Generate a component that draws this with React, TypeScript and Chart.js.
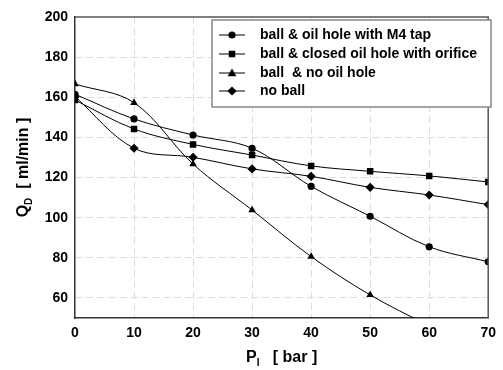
import React, { useEffect, useRef } from "react";
import { Chart, registerables } from "chart.js";

Chart.register(...registerables);

const pressure = [0, 10, 20, 30, 40, 50, 60, 70];
const m4Tap = [161.5, 149.2, 141.2, 134.6, 115.6, 100.7, 85.5, 78];
const closedOrifice = [158.6, 144.2, 136.5, 131.2, 125.8, 123.1, 120.8, 117.8];
const noOilHole = [166.6, 157.3, 126.7, 103.8, 80.6, 61.5, 46];
const noBall = [160.3, 134.6, 130.1, 124.3, 120.6, 115.1, 111.3, 106.5];

const seriesLabels = [
  "ball & oil hole with M4 tap",
  "ball & closed oil hole with orifice",
  "ball  & no oil hole",
  "no ball",
];
const seriesValues = [m4Tap, closedOrifice, noOilHole, noBall];
const pointStyles = ["circle", "rect", "triangle", "rectRot"];
const pointRadii = [3.6, 4.6, 4.4, 4.6];

const yTicks = [60, 80, 100, 120, 140, 160, 180, 200];
const xTicks = [0, 10, 20, 30, 40, 50, 60, 70];

const FONT = "'Liberation Sans', Arial, sans-serif";

function drawMarker(ctx: CanvasRenderingContext2D, style: string, x: number, y: number, r: number) {
  ctx.beginPath();
  if (style === "circle") {
    ctx.arc(x, y, r, 0, Math.PI * 2);
  } else if (style === "rect") {
    const s = r * Math.SQRT1_2;
    ctx.rect(x - s, y - s, 2 * s, 2 * s);
  } else if (style === "triangle") {
    ctx.moveTo(x, y - r);
    ctx.lineTo(x + r, y + r * 0.75);
    ctx.lineTo(x - r, y + r * 0.75);
    ctx.closePath();
  } else {
    ctx.moveTo(x, y - r);
    ctx.lineTo(x + r, y);
    ctx.lineTo(x, y + r);
    ctx.lineTo(x - r, y);
    ctx.closePath();
  }
  ctx.fillStyle = "#000";
  ctx.fill();
}

const decorPlugin = {
  id: "decor",
  afterDraw(chart: any) {
    const ctx: CanvasRenderingContext2D = chart.ctx;
    const a = chart.chartArea;
    ctx.save();
    // frame (top and right)
    ctx.strokeStyle = "#555";
    ctx.lineWidth = 1.5;
    ctx.beginPath();
    ctx.moveTo(a.left, a.top);
    ctx.lineTo(a.right, a.top);
    ctx.lineTo(a.right, a.bottom);
    ctx.stroke();

    // legend
    ctx.strokeStyle = "#888";
    ctx.lineWidth = 1.5;
    ctx.fillStyle = "#fff";
    ctx.fillRect(212, 20, 279, 87);
    ctx.strokeRect(212, 20, 279, 87);
    const rows = [35, 54, 73, 91];
    ctx.font = `bold 14px ${FONT}`;
    ctx.textBaseline = "middle";
    ctx.textAlign = "left";
    seriesLabels.forEach((lab, i) => {
      const y = rows[i];
      ctx.strokeStyle = "#000";
      ctx.lineWidth = 1;
      ctx.beginPath();
      ctx.moveTo(219, y);
      ctx.lineTo(245, y);
      ctx.stroke();
      drawMarker(ctx, pointStyles[i], 232, y, pointRadii[i]);
      ctx.fillStyle = "#000";
      ctx.fillText(lab, 260, y + 0.5);
    });

    // x title: P_I [ bar ]
    ctx.fillStyle = "#000";
    ctx.textBaseline = "alphabetic";
    const big = `bold 16px ${FONT}`;
    const small = `bold 10px ${FONT}`;
    ctx.font = big;
    const wP = ctx.measureText("P").width;
    ctx.font = small;
    const wI = ctx.measureText("I").width;
    ctx.font = big;
    const rest = "   [ bar ]";
    const wR = ctx.measureText(rest).width;
    const total = wP + wI + wR;
    const x0 = (a.left + a.right) / 2 - total / 2;
    const by = 362;
    ctx.fillText("P", x0, by);
    ctx.font = small;
    ctx.fillText("I", x0 + wP, by + 4);
    ctx.font = big;
    ctx.fillText(rest, x0 + wP + wI, by);

    // y title: Q_D [ ml/min ]
    ctx.save();
    ctx.translate(28, (a.top + a.bottom) / 2);
    ctx.rotate(-Math.PI / 2);
    ctx.font = big;
    const wQ = ctx.measureText("Q").width;
    ctx.font = small;
    const wD = ctx.measureText("D").width;
    ctx.font = big;
    const restY = "  [ ml/min ]";
    const wRY = ctx.measureText(restY).width;
    const tY = wQ + wD + wRY;
    const s = -tY / 2;
    ctx.fillText("Q", s, 0);
    ctx.font = small;
    ctx.fillText("D", s + wQ, 4);
    ctx.font = big;
    ctx.fillText(restY, s + wQ + wD, 0);
    ctx.restore();

    ctx.restore();
  },
};

export default function App() {
  const ref = useRef<HTMLCanvasElement | null>(null);
  useEffect(() => {
    if (!ref.current) return;
    const datasets = seriesValues.map((vals, i) => ({
      label: seriesLabels[i],
      data: vals.map((v, j) => ({ x: pressure[j], y: v })),
      borderColor: "#000",
      backgroundColor: "#000",
      borderWidth: 1,
      pointStyle: pointStyles[i] as any,
      pointRadius: pointRadii[i],
      pointBorderWidth: 0,
      tension: 0.35,
      fill: false,
    }));
    const chart = new Chart(ref.current, {
      type: "line",
      data: { datasets },
      options: {
        animation: false,
        responsive: false,
        layout: { padding: { left: 0, top: 17, right: 9, bottom: 0 } },
        plugins: { legend: { display: false }, tooltip: { enabled: false } },
        scales: {
          x: {
            type: "linear",
            min: 0,
            max: 70,
            afterBuildTicks: (scale: any) => {
              scale.ticks = xTicks.map((v) => ({ value: v }));
            },
            afterFit: (scale: any) => {
              scale.height = 52;
            },
            ticks: {
              color: "#000",
              font: { family: FONT, size: 14, weight: "bold" },
              padding: 7,
              maxRotation: 0,
            },
            grid: {
              color: (c: any) => (c.tick && (c.tick.value === 0 || c.tick.value === 70) ? "rgba(0,0,0,0)" : "#dcdcdc"),
              lineWidth: 1,
              drawTicks: false,
            },
            border: { display: true, color: "#333", width: 1.5, dash: [7, 4] as any },
          },
          y: {
            type: "linear",
            min: 50,
            max: 200,
            afterBuildTicks: (scale: any) => {
              scale.ticks = yTicks.map((v) => ({ value: v }));
            },
            afterFit: (scale: any) => {
              scale.width = 75;
            },
            ticks: {
              color: "#000",
              font: { family: FONT, size: 14, weight: "bold" },
              padding: 7,
            },
            grid: {
              color: (c: any) => (c.tick && c.tick.value === 200 ? "rgba(0,0,0,0)" : "#dcdcdc"),
              lineWidth: 1,
              drawTicks: false,
            },
            border: { display: true, color: "#333", width: 1.5, dash: [7, 4] as any },
          },
        },
      },
      plugins: [decorPlugin],
    });
    return () => chart.destroy();
  }, []);
  return (
    <div style={{ position: "fixed", left: 0, top: 0, width: 503, height: 370, background: "#fff" }}>
      <canvas ref={ref} width={503} height={370} />
    </div>
  );
}
